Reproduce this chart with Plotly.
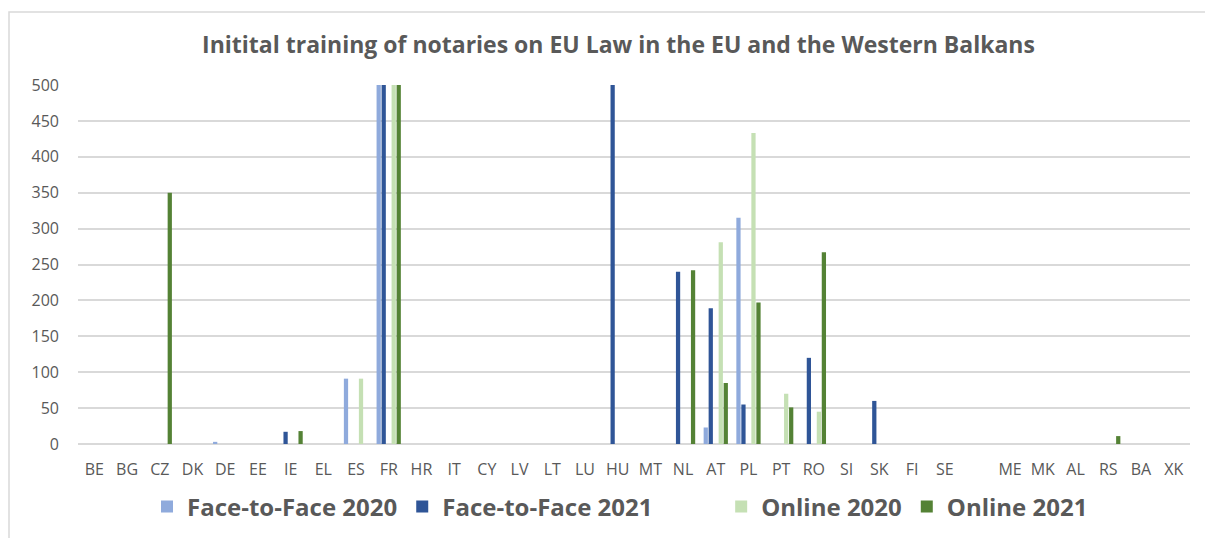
import plotly.graph_objects as go

countries = ["BE","BG","CZ","DK","DE","EE","IE","EL","ES","FR","HR","IT","CY","LV","LT","LU",
             "HU","MT","NL","AT","PL","PT","RO","SI","SK","FI","SE"," ","ME","MK","AL","RS","BA","XK"]

f2f_2020 = [0,0,0,0,3,0,0,0,91,500,0,0,0,0,0,0,0,0,0,23,315,0,0,0,0,0,0,None,0,0,0,0,0,0]
f2f_2021 = [0,0,0,0,0,0,17,0,0,500,0,0,0,0,0,0,500,0,240,189,55,0,120,0,60,0,0,None,0,0,0,0,0,0]
online_2020 = [0,0,0,0,0,0,0,0,91,500,0,0,0,0,0,0,0,0,0,281,433,70,45,0,0,0,0,None,0,0,0,0,0,0]
online_2021 = [0,0,350,0,0,0,18,0,0,500,0,0,0,0,0,0,0,0,242,85,197,51,267,0,0,0,0,None,0,0,0,11,0,0]
blank_series = [None]*len(countries)

series = [
    ("Face-to-Face 2020", f2f_2020, "#8faadc"),
    ("Face-to-Face 2021", f2f_2021, "#2f5597"),
    ("\u00a0\u00a0\u00a0", blank_series, "rgba(0,0,0,0)"),
    ("Online 2020", online_2020, "#c5e0b4"),
    ("Online 2021", online_2021, "#548235"),
]

fig = go.Figure()
for name, vals, col in series:
    fig.add_trace(go.Bar(x=countries, y=vals, name=name, marker_color=col,
                         marker_line_width=0, showlegend=True))

W, H = 1205, 538
L, R, T, B = 78, 15, 85, 94
pw, ph = W - L - R, H - T - B

def px_x(p):
    return (p - L) / pw

def px_y(p):
    return (H - B - p) / ph

fig.update_layout(
    width=W, height=H,
    margin=dict(l=L, r=R, t=T, b=B, autoexpand=False),
    paper_bgcolor="white", plot_bgcolor="white",
    barmode="group", bargap=0.235, bargroupgap=0.15,
    font=dict(family="Open Sans, Noto Sans, sans-serif", color="#595959"),
    title=dict(text="<b>Initital training of notaries on EU Law in the EU and the Western Balkans</b>",
               x=(197 + 1040) / 2 / W, xanchor="center", y=1 - 45 / H, yanchor="middle",
               font=dict(size=23, color="#595959")),
    xaxis=dict(type="category", categoryorder="array", categoryarray=countries,
               tickfont=dict(size=16, color="#595959"), showgrid=False, ticks="",
               showline=False, zeroline=False, ticklabelstandoff=14),
    yaxis=dict(range=[0, 500], tickvals=list(range(0, 501, 50)),
               tickfont=dict(size=16, color="#595959"), showgrid=True,
               gridcolor="#d9d9d9", gridwidth=1.5, zeroline=True, zerolinecolor="#d9d9d9",
               zerolinewidth=1.5, ticks="", ticklabelstandoff=18),
    legend=dict(orientation="h", x=px_x((163 + 1077) / 2), xanchor="center",
                y=px_y(507), yanchor="middle",
                font=dict(size=24, color="#595959", family="Open Sans, sans-serif", weight="bold"),
                itemwidth=30, traceorder="normal"),
    shapes=[dict(type="rect", xref="paper", yref="paper",
                 x0=px_x(9), x1=px_x(1215), y0=px_y(548), y1=px_y(12),
                 line=dict(color="#d9d9d9", width=1.5), fillcolor="rgba(0,0,0,0)", layer="below")],
)

fig.write_html("out.html", config={"displayModeBar": False},
               post_script="document.body.style.margin='0';document.body.style.padding='0';")
